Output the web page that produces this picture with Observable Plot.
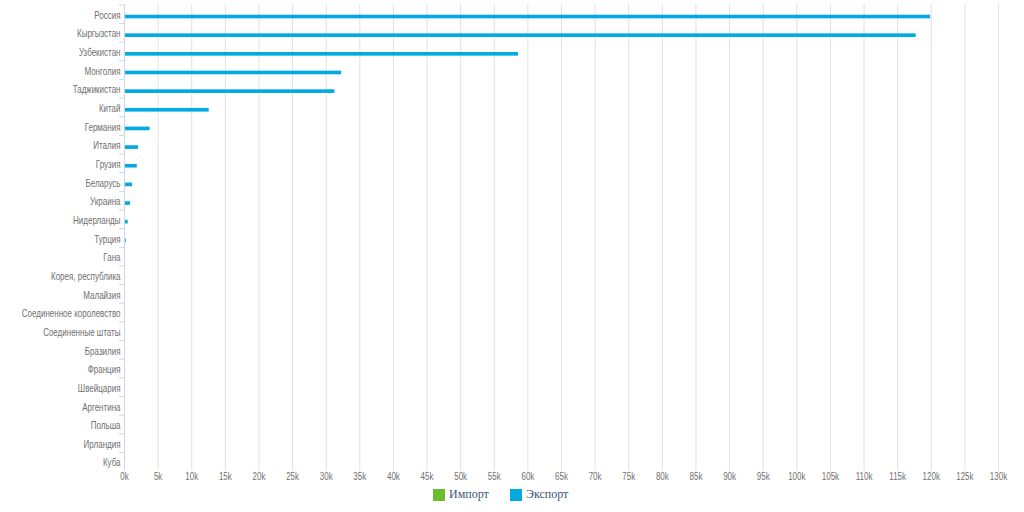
<!DOCTYPE html>
<html>
<head>
<meta charset="utf-8">
<script src="https://cdn.jsdelivr.net/npm/d3@7"></script>
<script src="https://cdn.jsdelivr.net/npm/@observablehq/plot@0.6"></script>
<style>
  html, body { margin: 0; padding: 0; background: #fff; }
  #chart { width: 1024px; height: 512px; position: relative; }
  .legend { position: absolute; top: 488px; left: 0; width: 1024px; height: 14px;
            font-family: "Liberation Serif", serif; font-size: 12px; color: #3b5477; }
  .item { position: absolute; top: 0; display: flex; align-items: center; height: 13px; }
  .sw { width: 12px; height: 12px; display: inline-block; margin-right: 4px; }
</style>
</head>
<body>
<div id="chart"></div>
<script>
const countries = ["Россия","Кыргызстан","Узбекистан","Монголия","Таджикистан","Китай","Германия","Италия","Грузия","Беларусь","Украина","Нидерланды","Турция","Гана","Корея, республика","Малайзия","Соединенное королевство","Соединенные штаты","Бразилия","Франция","Швейцария","Аргентина","Польша","Ирландия","Куба"];
const exportValues = [119900,117750,58600,32300,31300,12600,3800,2100,1900,1200,900,550,280,0,0,0,0,0,0,0,0,0,0,0,0];
const importValues = [0,0,0,0,0,0,0,0,0,0,0,0,0,0,0,0,0,0,0,0,0,0,0,0,0];
const seriesNames = ["Импорт","Экспорт"];
const seriesColors = ["#6cbd2e","#05a9e2"];
const xTicks = d3.range(0, 130001, 5000);

const data = countries.map((c, i) => ({country: c, imp: importValues[i], exp: exportValues[i]}));

const H = 484, plotTop = 4.3, plotBottom = 470.6;
const step = (plotBottom - plotTop) / countries.length;
const font = '"Liberation Sans", Arial, sans-serif';

const chart = Plot.plot({
  width: 1024,
  height: H,
  marginLeft: 124,
  marginRight: 26,
  marginTop: plotTop,
  marginBottom: H - plotBottom,
  style: {fontFamily: font, fontSize: "10px", color: "#666", background: "#fff"},
  x: {domain: [0, 130000]},
  y: {domain: countries, padding: 0, round: false},
  marks: [
    Plot.gridX(xTicks, {stroke: "#e0e0e0", strokeOpacity: 1}),
    Plot.barX(data, {y: "country", x: "imp", fill: seriesColors[0], insetTop: 6.6, insetBottom: 8.4}),
    Plot.barX(data, {y: "country", x: "exp", fill: seriesColors[1], insetTop: 10.4, insetBottom: 4.6}),
    Plot.ruleX([0], {stroke: "#ccd6eb"}),
    Plot.axisY({tickSize: 0, tickPadding: 4, dy: 1.5, fill: "#707070", fontSize: 10, label: null}),
    Plot.axisY({tickSize: 5, text: null, stroke: "#ccd6eb", dy: -step / 2, label: null}),
    Plot.axisX({ticks: xTicks, tickSize: 0, tickPadding: 2, tickFormat: d => (d / 1000) + "k", fill: "#707070", fontSize: 10, label: null})
  ]
});
// narrow the tick label glyphs to match the condensed face of the original
chart.querySelectorAll('g[aria-label="y-axis tick label"] text').forEach(t => {
  t.setAttribute("transform", (t.getAttribute("transform") || "") + " scale(0.8,1)");
});
chart.querySelectorAll('g[aria-label="x-axis tick label"] text').forEach(t => {
  t.setAttribute("transform", (t.getAttribute("transform") || "") + " scale(0.8,1)");
});
const root = document.getElementById("chart");
root.appendChild(chart);

const legend = document.createElement("div");
legend.className = "legend";
const lefts = [433, 510];
seriesNames.forEach((n, i) => {
  const it = document.createElement("div");
  it.className = "item";
  it.style.left = lefts[i] + "px";
  const sw = document.createElement("span");
  sw.className = "sw";
  sw.style.background = seriesColors[i];
  it.appendChild(sw);
  it.appendChild(document.createTextNode(n));
  legend.appendChild(it);
});
root.appendChild(legend);
</script>
</body>
</html>
